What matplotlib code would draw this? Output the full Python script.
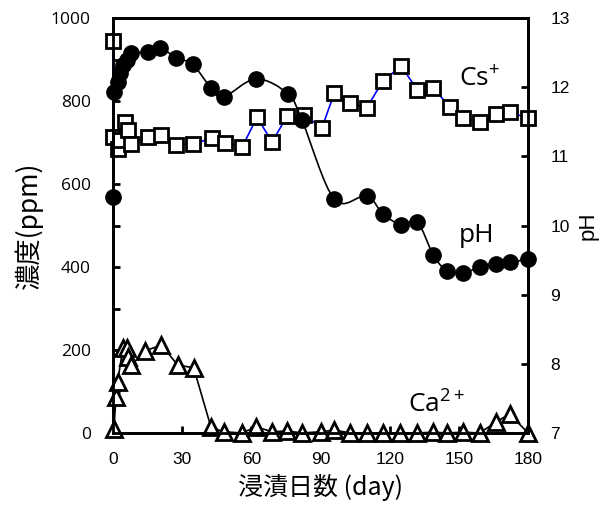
import matplotlib
matplotlib.use("Agg")
import matplotlib.pyplot as plt
import numpy as np
from matplotlib.path import Path
from matplotlib.patches import PathPatch

# Cs+ concentration (ppm)
cs_day = [0, 0.2, 2, 3, 5, 6.5, 8, 15, 21, 27.5, 34.7, 43, 48.6, 56, 62.5, 69,
          75.5, 83, 90.6, 96, 103, 110, 117, 125, 132, 139, 146, 152, 159, 166, 172, 180]
cs_ppm = [945, 713, 684, 706, 749, 730, 696, 713, 718, 694, 696, 711, 699, 689, 761, 701,
          764, 766, 735, 819, 795, 783, 848, 884, 827, 831, 786, 759, 749, 769, 773, 759]

# Ca2+ concentration (ppm)
ca_day = [0.4, 1.3, 2, 4.3, 6, 6.5, 8, 14, 21, 28, 35, 42.5, 48, 56, 62, 69, 75.5, 82,
          90, 96, 103, 110, 117, 124.5, 132, 139, 145, 152, 159, 166, 172, 180]
ca_ppm = [10, 87, 123, 205, 205, 183, 164, 198, 212, 164, 157, 14, 3, 0, 15, 3, 5, 0,
          3, 7, 0, 0, 0, 0, 0, 2, 0, 2, 0, 26, 46, 0]

# pH
ph_day = [0, 0.5, 2, 3, 4.3, 6, 8, 15, 20.5, 27.5, 34.5, 42.5, 48, 62, 76, 82,
          96, 110, 117, 125, 132, 139, 145, 152, 159, 166, 172, 180]
ph_val = [10.41, 11.93, 12.07, 12.2, 12.32, 12.39, 12.49, 12.51, 12.57, 12.42, 12.33,
          11.99, 11.86, 12.12, 11.90, 11.52, 10.38, 10.43, 10.17, 10.01, 10.05, 9.57,
          9.34, 9.31, 9.40, 9.44, 9.47, 9.51]

jp = ['Noto Sans CJK JP', 'DejaVu Sans']
plt.rcParams['mathtext.fontset'] = 'custom'
plt.rcParams['mathtext.rm'] = 'Open Sans'
plt.rcParams['mathtext.it'] = 'Open Sans:italic'
plt.rcParams['mathtext.bf'] = 'Open Sans:bold'

fig = plt.figure(figsize=(6.08, 5.07), dpi=100)
ax = fig.add_axes([113 / 608, 1 - 433 / 507, 415 / 608, 415 / 507])
ax2 = ax.twinx()

ax.plot(cs_day, cs_ppm, color='#0000ff', lw=1.2, marker='s', ms=10, mfc='white',
        mec='black', mew=2, clip_on=False, zorder=3)
ax.plot(ca_day, ca_ppm, color='black', lw=1.2, marker='^', ms=11, mfc='white',
        mec='black', mew=2, clip_on=False, zorder=3)


def smooth_path(xs, ys, sx, sy, t=1 / 6):
    # Excel-style smoothed line as cubic Bezier segments
    px = np.array(xs) / sx
    py = np.array(ys) / sy
    verts = [(px[0], py[0])]
    codes = [Path.MOVETO]
    n = len(px)
    for i in range(n - 1):
        p0 = i - 1 if i > 0 else i
        p3 = i + 2 if i + 2 < n else i + 1
        c1 = (px[i] + (px[i + 1] - px[p0]) * t, py[i] + (py[i + 1] - py[p0]) * t)
        c2 = (px[i + 1] - (px[p3] - px[i]) * t, py[i + 1] - (py[p3] - py[i]) * t)
        verts += [c1, c2, (px[i + 1], py[i + 1])]
        codes += [Path.CURVE4] * 3
    verts = [(a * sx, b * sy) for a, b in verts]
    return Path(verts, codes)


ph_path = smooth_path(ph_day, ph_val, 180.0, 6.0)
ax2.add_patch(PathPatch(ph_path, fc='none', ec='black', lw=1.2, zorder=2, clip_on=False))
ax2.plot(ph_day, ph_val, ls='none', marker='o', ms=11, mfc='black', mec='black',
         clip_on=False, zorder=3)

ax.set_xlim(0, 180)
ax.set_ylim(0, 1000)
ax2.set_ylim(7, 13)
ax.set_xticks(np.arange(0, 181, 30))
ax.set_yticks(np.arange(0, 1001, 200))
ax.set_yticks(np.arange(0, 1001, 100), minor=True)
ax2.set_yticks(np.arange(7, 14, 1))

for a in (ax, ax2):
    for s in a.spines.values():
        s.set_linewidth(2)
ax.tick_params(axis='both', which='both', direction='in', width=2, length=5,
               labelsize=12.5, pad=16)
ax.tick_params(axis='x', labelsize=12.5, pad=14)
ax2.tick_params(axis='y', direction='in', width=2, length=5, labelsize=12.5, pad=16)
for lab in ax.get_xticklabels() + ax2.get_yticklabels():
    lab.set_family('Liberation Sans')
for lab in ax.get_yticklabels():
    lab.set_family('Open Sans')

ax.set_xlabel('浸漬日数 (day)', family=jp, fontsize=18, labelpad=5)
ax.set_ylabel('濃度(ppm)', family=jp, fontsize=19, labelpad=6)
ax2.set_ylabel('pH', family='Liberation Sans', fontsize=16, labelpad=6)

ax.text(150, 850, r'Cs$^{\mathrm{+}}$', fontsize=19, family='Open Sans', ha='left', va='center')
ax2.text(150, 9.85, 'pH', fontsize=19, family='Open Sans', ha='left', va='center')
ax.text(128, 67, r'Ca$^{\mathrm{2+}}$', fontsize=19, family='Open Sans', ha='left', va='center')

fig.savefig('out.png', dpi=100)
